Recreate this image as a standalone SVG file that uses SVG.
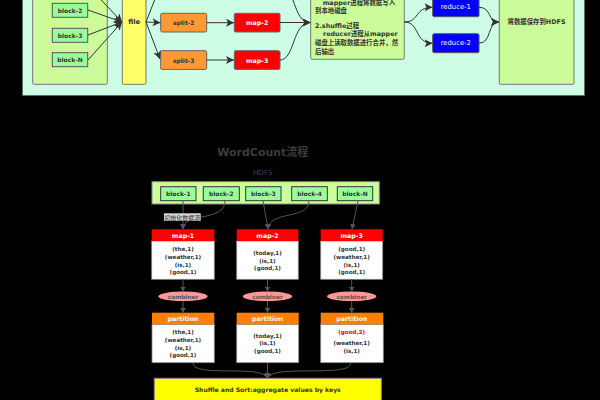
<svg xmlns="http://www.w3.org/2000/svg" width="600" height="400" viewBox="0 0 600 400">
<defs>
<style>
text{font-family:"DejaVu Sans","Noto Sans CJK SC",sans-serif;dominant-baseline:central;text-anchor:middle}
.b{font-weight:bold;font-size:6px;fill:#333}
.w{font-weight:bold;font-size:6.3px;fill:#fff}
.zh{font-size:6.4px;fill:#333;font-weight:bold;text-anchor:start}
.kv{font-weight:bold;font-size:5.6px;fill:#333}
.cb{font-weight:bold;font-size:5.8px;fill:#555}
.c1{fill:none;stroke:#333;stroke-width:1}
.c2{fill:none;stroke:#555;stroke-width:1}
.blk{fill:#99fd99;stroke:#555;stroke-width:1}
.blk2{fill:#99ff99;stroke:#333;stroke-width:1}
.cont{fill:#ccfc99;stroke:#777;stroke-width:1}
.body{fill:#fff;stroke:#888;stroke-width:0.8}
</style>
<marker id="a1" markerUnits="userSpaceOnUse" markerWidth="9" markerHeight="8" refX="8" refY="4" orient="auto"><path d="M0,0 L8,4 L0,8 L2,4 z" fill="#333"/></marker>
<marker id="a2" markerUnits="userSpaceOnUse" markerWidth="6" markerHeight="6" refX="5" refY="3" orient="auto"><path d="M0,0 L5,3 L0,6 z" fill="#555"/></marker>
</defs>
<rect x="0" y="0" width="600" height="400" fill="#000"/>
<!-- top panel -->
<rect x="22.5" y="-20" width="562" height="115.5" fill="#cdfde4" stroke="#5a6b5f" stroke-width="1"/>
<g id="blocks-top"><rect class="cont" x="32.7" y="-40" width="74.6" height="124.3" rx="1.5"/></g>
<g id="tblock-1"><rect class="blk" x="52.3" y="-21.4" width="35.4" height="14"/></g>
<g id="tblock-2"><rect class="blk" x="52.3" y="3.3" width="35.4" height="14"/><text class="b" x="70" y="10.3">block-2</text></g>
<g id="tblock-3"><rect class="blk" x="52.3" y="28.3" width="35.4" height="14"/><text class="b" x="70" y="35.3">block-3</text></g>
<g id="tblock-N"><rect class="blk" x="52.3" y="52.7" width="35.4" height="14"/><text class="b" x="70" y="59.7">block-N</text></g>
<g id="file"><rect x="122.3" y="-40" width="23.7" height="124.3" rx="1.5" fill="#ffff66" stroke="#777"/><text class="b" style="font-size:6.8px" x="134.2" y="22">file</text></g>
<g id="split-1"><rect x="160.7" y="-24" width="46" height="18.7" rx="1.5" fill="#ff9933" stroke="#666"/></g>
<g id="split-2"><rect x="160.7" y="13.3" width="46" height="18.7" rx="1.5" fill="#ff9933" stroke="#666"/><text class="b" x="183.7" y="22.7">split-2</text></g>
<g id="split-3"><rect x="160.7" y="50.7" width="46" height="18.7" rx="1.5" fill="#ff9933" stroke="#666"/><text class="b" x="183.7" y="60">split-3</text></g>
<g id="tmap-1"><rect x="234.3" y="-24" width="45.7" height="18.7" rx="1.5" fill="#ff0000" stroke="#666"/></g>
<g id="tmap-2"><rect x="234.3" y="13.3" width="45.7" height="18.7" rx="1.5" fill="#ff0000" stroke="#666"/><text class="w" x="257.2" y="22.7">map-2</text></g>
<g id="tmap-3"><rect x="234.3" y="50.7" width="45.7" height="18.7" rx="1.5" fill="#ff0000" stroke="#666"/><text class="w" x="257.2" y="60">map-3</text></g>
<g id="note"><rect class="cont" x="310.7" y="-40" width="93.6" height="99.3" rx="1.5"/>
<text class="zh" x="322.7" y="3.4">mapper进程将数据写入</text>
<text class="zh" x="315" y="10.9">到本地磁盘</text>
<text class="zh" x="315" y="25.5">2.shuffle过程</text>
<text class="zh" x="323" y="34.3">reducer进程从mapper</text>
<text class="zh" x="315" y="42.8">磁盘上读取数据进行合并，然</text>
<text class="zh" x="315" y="51.7">后输出</text></g>
<g id="reduce-1"><rect x="432.7" y="-2" width="46.3" height="18.7" rx="1.5" fill="#0000ff" stroke="#555"/><text x="455.8" y="7.3" style="font-size:6.8px;fill:#fff">reduce-1</text></g>
<g id="reduce-2"><rect x="432.7" y="33.7" width="46.3" height="19" rx="1.5" fill="#0000ff" stroke="#555"/><text x="455.8" y="43.2" style="font-size:6.8px;fill:#fff">reduce-2</text></g>
<g id="hdfs-out"><rect class="cont" x="499.3" y="-40" width="74.7" height="124.3" rx="1.5"/><text class="zh" style="text-anchor:middle" x="536.5" y="22">将数据保存到HDFS</text></g>
<g id="top-connectors">
<path class="c1" d="M88,-14 L122,22" marker-end="url(#a1)"/>
<path class="c1" d="M88,10 L122,22" marker-end="url(#a1)"/>
<path class="c1" d="M88,35 L122,22" marker-end="url(#a1)"/>
<path class="c1" d="M88,60 L122,22" marker-end="url(#a1)"/>
<path class="c1" d="M146,22 L160.5,-15" marker-end="url(#a1)"/>
<path class="c1" d="M146,22 L160.5,22.7" marker-end="url(#a1)"/>
<path class="c1" d="M146,22 L160,59" marker-end="url(#a1)"/>
<path class="c1" d="M206.7,22.7 L234,22.7" marker-end="url(#a1)"/>
<path class="c1" d="M206.7,60 L234,60" marker-end="url(#a1)"/>
<path class="c1" d="M280,22.5 L310.5,22.5" marker-end="url(#a1)"/>
<path class="c1" d="M280,60 C295,60 292,22.5 310.5,22.5" marker-end="url(#a1)"/>
<path class="c1" d="M280,-15 C296,-15 292,22.5 310.5,22.5" marker-end="url(#a1)"/>
<path class="c1" d="M404.3,22 C420,22 414,7.3 432.5,7.3" marker-end="url(#a1)"/>
<path class="c1" d="M404.3,22 C420,22 414,43.2 432.5,43.2" marker-end="url(#a1)"/>
<path class="c1" d="M479,7.3 C492,7.3 487,22 499,22" marker-end="url(#a1)"/>
<path class="c1" d="M479,43.2 C492,43.2 487,22 499,22" marker-end="url(#a1)"/>
</g>
<!-- bottom -->
<text x="262.8" y="152.7" style="font-weight:bold;font-size:11px;fill:#3c3c3c">WordCount流程</text>
<text x="262.7" y="172.3" style="font-size:7.2px;fill:#444">HDFS</text>
<g id="hdfs"><rect x="152" y="181.7" width="227.3" height="22.3" fill="#ccff99" stroke="#888"/></g>
<g id="block-1"><rect class="blk2" x="160.7" y="186.7" width="35.3" height="14"/><text class="b" x="178.3" y="193.7">block-1</text></g>
<g id="block-2"><rect class="blk2" x="203.3" y="186.7" width="36" height="14"/><text class="b" x="221.3" y="193.7">block-2</text></g>
<g id="block-3"><rect class="blk2" x="245.7" y="186.7" width="35.3" height="14"/><text class="b" x="263.3" y="193.7">block-3</text></g>
<g id="block-4"><rect class="blk2" x="291.7" y="186.7" width="35.6" height="14"/><text class="b" x="309.5" y="193.7">block-4</text></g>
<g id="block-N"><rect class="blk2" x="337.3" y="186.7" width="35.4" height="14"/><text class="b" x="355" y="193.7">block-N</text></g>
<g id="map-1"><rect class="body" x="151.7" y="241" width="62.6" height="38.3"/><rect x="151.7" y="229.3" width="62.6" height="11.7" fill="#ff0000"/><text class="w" x="183" y="235.2">map-1</text>
<text class="kv" x="183" y="249.3">(the,1)</text><text class="kv" x="183" y="257">(weather,1)</text><text class="kv" x="183" y="264.7">(is,1)</text><text class="kv" x="183" y="272">(good,1)</text></g>
<g id="map-2"><rect class="body" x="236.7" y="241" width="61.6" height="38.3"/><rect x="236.7" y="229.3" width="61.6" height="11.7" fill="#ff0000"/><text class="w" x="267.5" y="235.2">map-2</text>
<text class="kv" x="267.5" y="253">(today,1)</text><text class="kv" x="267.5" y="260.7">(is,1)</text><text class="kv" x="267.5" y="268">(good,1)</text></g>
<g id="map-3"><rect class="body" x="320.7" y="241" width="62" height="38.3"/><rect x="320.7" y="229.3" width="62" height="11.7" fill="#ff0000"/><text class="w" x="351.7" y="235.2">map-3</text>
<text class="kv" x="351.7" y="249.3">(good,1)</text><text class="kv" x="351.7" y="257">(weather,1)</text><text class="kv" x="351.7" y="264.7">(is,1)</text><text class="kv" x="351.7" y="272">(good,1)</text></g>
<g id="combiner-1"><ellipse cx="183" cy="296.3" rx="24.7" ry="4.8" fill="#ff9999"/><text class="cb" x="183" y="296.5">combiner</text></g>
<g id="combiner-2"><ellipse cx="267.5" cy="296.3" rx="24.7" ry="4.8" fill="#ff9999"/><text class="cb" x="267.5" y="296.5">combiner</text></g>
<g id="combiner-3"><ellipse cx="351.7" cy="296.3" rx="24.7" ry="4.8" fill="#ff9999"/><text class="cb" x="351.7" y="296.5">combiner</text></g>
<g id="partition-1"><rect class="body" x="152" y="324.3" width="62.3" height="38.4"/><rect x="152" y="312.7" width="62.3" height="11.6" fill="#ff8000"/><text class="w" x="183" y="318.5">partition</text>
<text class="kv" x="183" y="332.3">(the,1)</text><text class="kv" x="183" y="340">(weather,1)</text><text class="kv" x="183" y="347.7">(is,1)</text><text class="kv" x="183" y="355">(good,1)</text></g>
<g id="partition-2"><rect class="body" x="236.7" y="324.3" width="62" height="38.4"/><rect x="236.7" y="312.7" width="62" height="11.6" fill="#ff8000"/><text class="w" x="267.5" y="318.5">partition</text>
<text class="kv" x="267.5" y="336">(today,1)</text><text class="kv" x="267.5" y="343.3">(is,1)</text><text class="kv" x="267.5" y="350.7">(good,1)</text></g>
<g id="partition-3"><rect class="body" x="320.7" y="324.3" width="62.6" height="38.4"/><rect x="320.7" y="312.7" width="62.6" height="11.6" fill="#ff8000"/><text class="w" x="351.7" y="318.5">partition</text>
<text class="kv" x="351.7" y="332.3" style="fill:#ff0000">(good,2)</text><text class="kv" x="351.7" y="343.3">(weather,1)</text><text class="kv" x="351.7" y="350.7">(is,1)</text></g>
<g id="shuffle"><rect x="154.3" y="378.3" width="227" height="30" fill="#ffff00" stroke="#888"/><text class="b" x="267.7" y="389.3" style="font-size:6.1px">Shuffle and Sort:aggregate values by keys</text></g>
<g id="bottom-connectors">
<path class="c2" d="M183,201 L183,229" marker-end="url(#a2)"/>
<path class="c2" d="M225,201 C225,222 183,212 183,229" marker-end="url(#a2)"/>
<path class="c2" d="M263,201 L268,229" marker-end="url(#a2)"/>
<path class="c2" d="M309,201 C309,220 270,210 268,229" marker-end="url(#a2)"/>
<path class="c2" d="M358,201 L352,229" marker-end="url(#a2)"/>
<path class="c2" d="M183,279.3 L183,291.5" marker-end="url(#a2)"/>
<path class="c2" d="M267.5,279.3 L267.5,291.5" marker-end="url(#a2)"/>
<path class="c2" d="M351.7,279.3 L351.7,291.5" marker-end="url(#a2)"/>
<path class="c2" d="M183,301.1 L183,312.7" marker-end="url(#a2)"/>
<path class="c2" d="M267.5,301.1 L267.5,312.7" marker-end="url(#a2)"/>
<path class="c2" d="M351.7,301.1 L351.7,312.7" marker-end="url(#a2)"/>
<path class="c2" d="M193,363 C193,378 262,364 267.5,378" marker-end="url(#a2)"/>
<path class="c2" d="M267.5,363 L267.5,378" marker-end="url(#a2)"/>
<path class="c2" d="M351,363 C351,378 273,364 267.5,378" marker-end="url(#a2)"/>
</g>
<g id="label-init"><rect x="164" y="213.3" width="36.7" height="7.6" fill="#d8d8d8"/><text x="182.3" y="217.2" style="font-size:6px;fill:#333">初始化数据源</text></g>
</svg>
